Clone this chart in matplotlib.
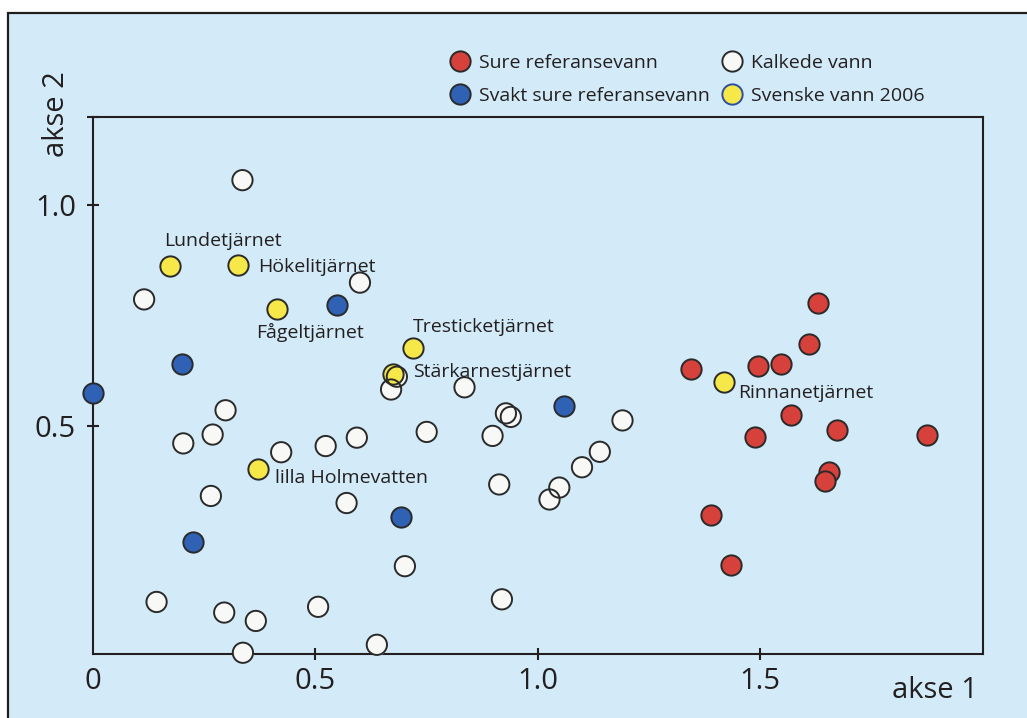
import matplotlib
matplotlib.use('Agg')
import matplotlib.pyplot as plt
from matplotlib.lines import Line2D
from matplotlib.patches import Rectangle

plt.rcParams['font.family'] = ['Open Sans', 'DejaVu Sans']

# ordination scores (akse 1, akse 2)
sure_x = [1.630, 1.609, 1.496, 1.547, 1.344, 1.569, 1.489, 1.672, 1.876, 1.655, 1.646, 1.389, 1.435]
sure_y = [0.779, 0.685, 0.637, 0.641, 0.630, 0.526, 0.476, 0.492, 0.481, 0.396, 0.376, 0.299, 0.186]

svakt_x = [0.549, 0.202, 0.000, 1.059, 0.225, 0.693]
svakt_y = [0.775, 0.640, 0.574, 0.546, 0.238, 0.295]

kalk_x = [0.337, 0.601, 0.116, 0.299, 0.684, 0.671, 0.836, 0.929, 0.940, 1.191, 0.751,
          0.899, 0.270, 0.204, 0.424, 0.524, 0.594, 0.266, 0.571, 0.144, 0.296, 0.367,
          0.507, 0.338, 0.639, 1.140, 1.100, 1.049, 1.027, 0.914, 0.702, 0.920]
kalk_y = [1.057, 0.825, 0.787, 0.536, 0.612, 0.583, 0.588, 0.529, 0.521, 0.513, 0.487,
          0.478, 0.481, 0.461, 0.441, 0.455, 0.474, 0.342, 0.326, 0.102, 0.078, 0.059,
          0.091, -0.013, 0.005, 0.442, 0.407, 0.361, 0.334, 0.368, 0.183, 0.108]

svensk_names = ['Lundetjärnet', 'Hökelitjärnet', 'Fågeltjärnet', 'Tresticketjärnet',
                'Stärkarnestjärnet', 'lilla Holmevatten', 'Rinnanetjärnet']
svensk_x = [0.174, 0.328, 0.414, 0.721, 0.676, 0.373, 1.419]
svensk_y = [0.863, 0.864, 0.765, 0.678, 0.618, 0.402, 0.599]

legend_labels = ['Sure referansevann', 'Svakt sure referansevann',
                 'Kalkede vann', 'Svenske vann 2006']

x_ticks = [0, 0.5, 1.0, 1.5]
x_ticklabels = ['0', '0.5', '1.0', '1.5']
y_ticks = [0.5, 1.0, 1.2]
y_ticklabels = ['0.5', '1.0', '']

# label offsets (points) relative to each yellow marker
label_offsets = [(-4, 18), (14, -1), (-15, -17), (0, 15), (14, 1.5), (12, -6.5), (10, -7.5)]

BG = '#d3ebf8'
RED = '#d6413b'
BLUE = '#2f62b5'
YELLOW = '#f7e84a'
WHITE = '#f8f8f6'
EDGE = '#2a2a2a'
TXT = '#231f20'
MS = 14.6
MEW = 1.4

fig = plt.figure(figsize=(10.27, 7.18), dpi=100)
fig.patch.set_facecolor('white')
fig.patches.append(Rectangle((8 / 1027, -0.2), 1.2, 1.2 - 13 / 718, transform=fig.transFigure,
                             facecolor=BG, edgecolor='#1e1e1e', linewidth=1.6, zorder=-5))

ax = fig.add_axes([92.5 / 1027, 1 - 654.3 / 718, 890 / 1027, 537.3 / 718])
ax.set_facecolor('none')
ax.set_xlim(0, 2.0)
ax.set_ylim(-0.0165, 1.199)

kw = dict(s=MS ** 2, linewidths=MEW, edgecolors=EDGE, zorder=3, clip_on=False)
# white circles: fill first, outlines last (overlapping rings stay visible)
ax.scatter(kalk_x, kalk_y, s=MS ** 2, c=WHITE, linewidths=0, zorder=3, clip_on=False)
ax.scatter(svakt_x, svakt_y, c=BLUE, **kw)
ax.scatter(sure_x, sure_y, c=RED, **kw)
ax.scatter(svensk_x, svensk_y, c=YELLOW, **kw)
ax.scatter(kalk_x, kalk_y, s=MS ** 2, facecolors='none', edgecolors=EDGE,
           linewidths=MEW, zorder=3.1, clip_on=False)

for name, x, y, off in zip(svensk_names, svensk_x, svensk_y, label_offsets):
    ax.annotate(name, (x, y), xytext=off, textcoords='offset points',
                ha='left', va='center', fontsize=14, color=TXT, zorder=4)

for sp in ax.spines.values():
    sp.set_linewidth(1.5)
    sp.set_color(TXT)

ax.set_xticks(x_ticks)
ax.set_xticklabels(x_ticklabels)
ax.set_yticks(y_ticks)
ax.set_yticklabels(y_ticklabels)
ax.tick_params(direction='inout', length=8, width=1.5, colors=TXT, labelsize=21)
ax.tick_params(axis='x', pad=5)
ax.tick_params(axis='y', pad=8)
ax.xaxis.get_major_ticks()[0].tick1line.set_visible(False)

fig.text(57 / 1027, 1 - 114 / 718, 'akse 2', rotation=90, ha='center', va='center',
         fontsize=21, color=TXT)
fig.text(935 / 1027, 1 - 691 / 718, 'akse 1', ha='center', va='center',
         fontsize=21, color=TXT)

def handle(face, edge):
    return Line2D([], [], marker='o', linestyle='none', markersize=MS,
                  markerfacecolor=face, markeredgecolor=edge, markeredgewidth=MEW)

leg_kw = dict(loc='center left', bbox_transform=fig.transFigure, frameon=False,
              borderpad=0, borderaxespad=0, handlelength=1.0, handletextpad=0.5,
              labelspacing=0.8, fontsize=14, labelcolor=TXT)
fig.legend([handle(RED, EDGE), handle(BLUE, EDGE)], legend_labels[:2],
           bbox_to_anchor=(450.3 / 1027, 1 - 79.5 / 718), **leg_kw)
fig.legend([handle(WHITE, EDGE), handle(YELLOW, '#2b4fa0')], legend_labels[2:],
           bbox_to_anchor=(722 / 1027, 1 - 79.5 / 718), **leg_kw)

fig.savefig('out.png', dpi=100)
